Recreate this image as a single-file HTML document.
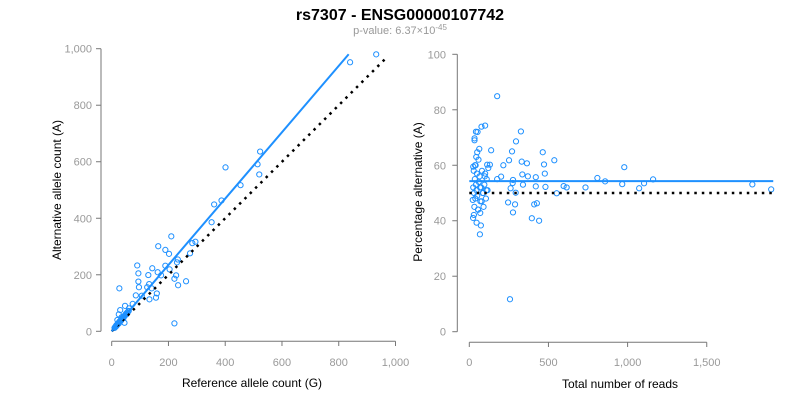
<!DOCTYPE html>
<html><head><meta charset="utf-8">
<style>
body{margin:0;background:#fff;}
svg{display:block;font-family:"Liberation Sans",Arial,sans-serif;}
.tick{fill:#999;font-size:11px;}
.ttl{fill:#000;font-size:12px;}
</style></head>
<body>
<svg id="chart" width="800" height="400" viewBox="0 0 800 400">
<text x="400" y="20" text-anchor="middle" font-size="16" font-weight="bold">rs7307 - ENSG00000107742</text>
<text x="400" y="34" text-anchor="middle" font-size="11" fill="#999">p-value: 6.37×10<tspan dy="-4" font-size="8">-45</tspan></text>
<g id="left"></g>
<g id="right"></g>
</svg>
<script>
// Left plot data: reference vs alternative counts
const refCounts=[932,840,523,514,520,401,454,387,361,352,295,284,276,210,164,189,202,233,230,227,221,234,262,221,27,90,94,94,143,162,174,204,189,129,132,133,156,159,141,125,96,85,106,74,61,47,
12,14,15,16,18,20,22,24,25,27,28,30,32,33,35,36,38,40,42,45,48,50,52,55,58,60,10,13,17,21,26,31,37,43,49,54,20,25,30,35,45];
const altCounts=[980,952,636,591,555,580,517,463,449,386,317,312,276,336,301,288,274,254,244,198,186,163,177,28,152,233,205,176,223,209,198,219,232,199,167,113,119,134,152,156,156,127,126,97,81,90,
14,17,19,18,22,25,27,30,28,33,35,36,40,38,42,44,46,50,48,55,58,62,60,66,70,72,12,16,22,24,30,37,44,52,58,66,40,60,75,50,30];
// Right plot data: total reads vs percentage alternative
const totalReads=[176,257,100,77,42,52,33,33,326,295,138,63,50,270,464,537,251,331,979,472,364,215,113,130,25,477,335,370,420,201,176,276,809,1161,858,596,615,734,966,1073,1104,1788,1907,552,420,481,410,427,245,289,276,395,441,73,67,46,29,69,293,261,274,339,
22,25,28,30,32,35,38,40,42,45,48,50,55,58,60,65,70,75,80,85,90,95,100,105,110,115,120,24,36,44,56,68,78,88,98,108];
const pctAlt=[84.9,11.7,74.3,73.9,72.1,72,69.7,69,72.2,68.6,65.4,65.9,64.7,65,64.7,61.8,61.8,61.3,59.3,60.3,60.7,60,60.2,60.2,59.5,57,56.7,56,55.7,55.9,55,54.7,55.4,54.9,54.2,52.5,52,52,53.2,51.7,53.5,53.1,51.3,49.9,52.4,52.2,45.9,46.3,46.6,45.9,43,40.9,40,38.3,35.1,39.3,42.1,42.8,50.1,51.7,53.6,53,
47.5,52,58,50,45,55,48,60,53,51,57,49,44,62,54,56,47,52,58,50,45,53,57,48,55,51,59,41,60,63,44,52,47,50,56,51];
const leftXTicks=[0,200,400,600,800,1000];
const leftYTicks=[0,200,400,600,800,1000];
const rightXTicks=[0,500,1000,1500];
const rightYTicks=[0,20,40,60,80,100];
const leftFitSlope=[1.174];
const rightFitLevel=[54.3];
const rightNullLevel=[50];

const NS="http://www.w3.org/2000/svg";
function mk(parent,tag,attrs){const e=document.createElementNS(NS,tag);for(const k in attrs)e.setAttribute(k,attrs[k]);parent.appendChild(e);return e;}
const fmt=v=>v.toLocaleString('en-US');
const BLUE="#1e90ff";

// Left axes
const lx=v=>111.7+v*0.2838;
const ly=v=>331.3-v*0.2826;
const L=document.getElementById('left');
let a=mk(L,'line',{x1:101,y1:ly(0),x2:101,y2:ly(1000),stroke:'#777'});


a=mk(L,'line',{x1:lx(0),y1:341.3,x2:lx(1000),y2:341.3,stroke:'#777'});


leftYTicks.forEach(v=>{mk(L,'line',{x1:96,y1:ly(v),x2:101,y2:ly(v),stroke:'#777'});
 const t=mk(L,'text',{x:92,y:ly(v)+4,'text-anchor':'end',class:'tick'});t.textContent=fmt(v);
 
 });
leftXTicks.forEach(v=>{mk(L,'line',{x1:lx(v),y1:341.3,x2:lx(v),y2:346,stroke:'#777'});
 const t=mk(L,'text',{x:lx(v),y:366,'text-anchor':'middle',class:'tick'});t.textContent=fmt(v);
 
 });
let t=mk(L,'text',{x:252,y:387,'text-anchor':'middle',class:'ttl'});t.textContent='Reference allele count (G)';


t=mk(L,'text',{x:0,y:0,'text-anchor':'middle',class:'ttl',transform:'translate(61,190) rotate(-90)'});t.textContent='Alternative allele count (A)';


refCounts.forEach((r,i)=>{const c=mk(L,'circle',{cx:lx(r),cy:ly(altCounts[i]),r:2.6,fill:'none',stroke:BLUE,'stroke-width':1});
 
 });
let ln=mk(L,'line',{x1:lx(0),y1:ly(0),x2:lx(970),y2:ly(970),stroke:'#000','stroke-width':2.5,'stroke-dasharray':'2.5,5'});


ln=mk(L,'line',{x1:lx(0),y1:ly(0),x2:lx(835),y2:ly(835*leftFitSlope[0]),stroke:BLUE,'stroke-width':2});



// Right axes
const rx=v=>469.3+v*0.1583;
const ry=v=>331.7-v*2.774;
const R=document.getElementById('right');
a=mk(R,'line',{x1:457.3,y1:ry(0),x2:457.3,y2:ry(100),stroke:'#777'});


a=mk(R,'line',{x1:rx(0),y1:342.3,x2:rx(1500),y2:342.3,stroke:'#777'});


rightYTicks.forEach(v=>{mk(R,'line',{x1:452.3,y1:ry(v),x2:457.3,y2:ry(v),stroke:'#777'});
 const t=mk(R,'text',{x:446,y:ry(v)+4,'text-anchor':'end',class:'tick'});t.textContent=fmt(v);
 
 });
rightXTicks.forEach(v=>{mk(R,'line',{x1:rx(v),y1:342.3,x2:rx(v),y2:347,stroke:'#777'});
 const t=mk(R,'text',{x:rx(v),y:366,'text-anchor':'middle',class:'tick'});t.textContent=fmt(v);
 
 });
t=mk(R,'text',{x:620,y:388,'text-anchor':'middle',class:'ttl'});t.textContent='Total number of reads';


t=mk(R,'text',{x:0,y:0,'text-anchor':'middle',class:'ttl',transform:'translate(422,192) rotate(-90)'});t.textContent='Percentage alternative (A)';


totalReads.forEach((n,i)=>{const c=mk(R,'circle',{cx:rx(n),cy:ry(pctAlt[i]),r:2.6,fill:'none',stroke:BLUE,'stroke-width':1});
 
 });
ln=mk(R,'line',{x1:rx(0),y1:ry(rightNullLevel[0]),x2:rx(1920),y2:ry(rightNullLevel[0]),stroke:'#000','stroke-width':2.5,'stroke-dasharray':'2.5,5'});


ln=mk(R,'line',{x1:rx(0),y1:ry(rightFitLevel[0]),x2:rx(1920),y2:ry(rightFitLevel[0]),stroke:BLUE,'stroke-width':2});


</script>
</body></html>
